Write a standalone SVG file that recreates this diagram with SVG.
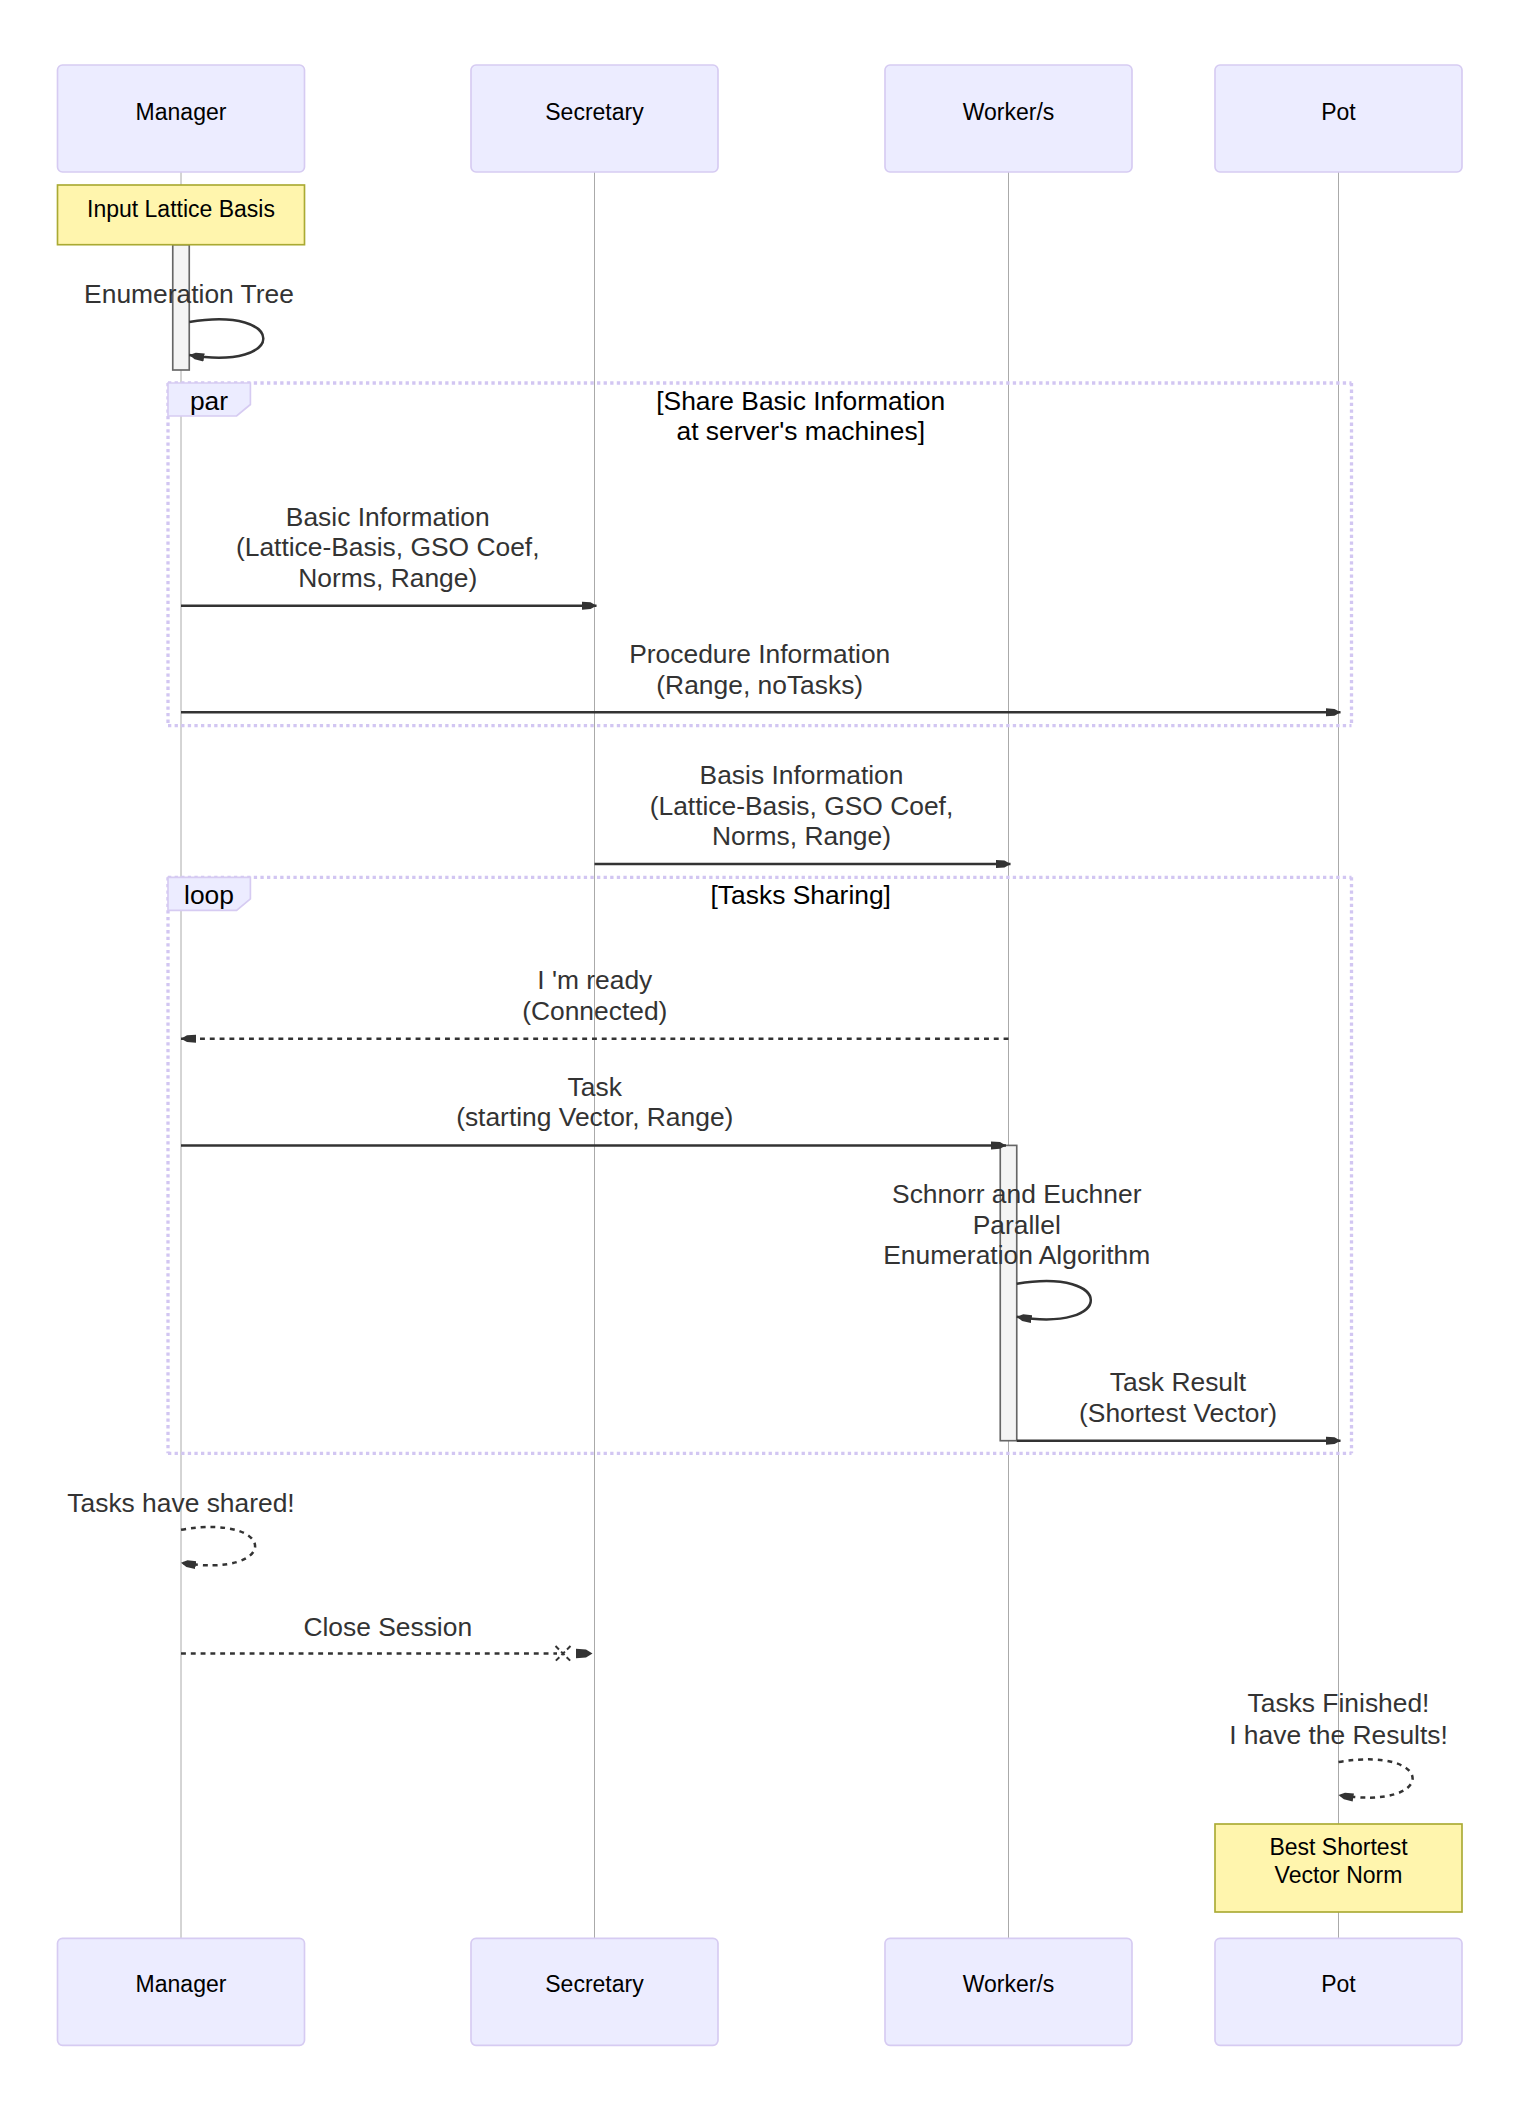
<svg xmlns="http://www.w3.org/2000/svg" width="1516" height="2106" viewBox="0 0 1516 2106">
<style>
.actor{fill:#ECECFF;stroke:#D6CBF2;stroke-width:1.65}
.atext{font-family:'Liberation Sans',Arial,sans-serif;font-size:23px;fill:#000;text-anchor:middle}
.life{stroke:#aaa;stroke-width:1;fill:none}
.note{fill:#fff5ad;stroke:#aaaa33;stroke-width:1.65}
.ntext{font-family:'Liberation Sans',Arial,sans-serif;font-size:23px;fill:#000;text-anchor:middle}
.act{fill:#f4f4f4;stroke:#666;stroke-width:1.65}
.loopline{stroke:#D2C6F2;stroke-width:3.3;stroke-dasharray:3.3 3.3;fill:none}
.lbox{fill:#ECECFF;stroke:#D6CBF2;stroke-width:1.65}
.ltext{font-family:'Liberation Sans',Arial,sans-serif;font-size:26.4px;fill:#000;text-anchor:middle}
.mtext{font-family:'Liberation Sans',Arial,sans-serif;font-size:26.4px;fill:#333;text-anchor:middle}
.msg{stroke:#333;stroke-width:2.5;fill:none}
.dash{stroke-dasharray:4.9 4.9}
</style>
<defs>
<marker id="arrow" markerUnits="userSpaceOnUse" markerWidth="16" markerHeight="10" refX="15" refY="4" orient="auto" viewBox="0 0 16 8">
<path d="M0,0 L9,0.6 L15,4 L9,7.4 L0,8 z" fill="#333"/>
</marker>
</defs>
<rect width="1516" height="2106" fill="#fff"/>
<g id="lifelines">
<line class="life" x1="181" y1="172" x2="181" y2="1938"/>
<line class="life" x1="594.5" y1="172" x2="594.5" y2="1938"/>
<line class="life" x1="1008.5" y1="172" x2="1008.5" y2="1938"/>
<line class="life" x1="1338.5" y1="172" x2="1338.5" y2="1938"/>
</g>
<g id="actor-manager-top"><rect class="actor" x="57.5" y="65" width="247" height="107" rx="5"/><text class="atext" x="181" y="120">Manager</text></g>
<g id="actor-secretary-top"><rect class="actor" x="471" y="65" width="247" height="107" rx="5"/><text class="atext" x="594.5" y="120">Secretary</text></g>
<g id="actor-worker-top"><rect class="actor" x="885" y="65" width="247" height="107" rx="5"/><text class="atext" x="1008.5" y="120">Worker/s</text></g>
<g id="actor-pot-top"><rect class="actor" x="1215" y="65" width="247" height="107" rx="5"/><text class="atext" x="1338.5" y="120">Pot</text></g>
<g id="par-block">
<line class="loopline" x1="168" y1="383" x2="1351.5" y2="383"/>
<line class="loopline" x1="1351.5" y1="383" x2="1351.5" y2="725.7"/>
<line class="loopline" x1="168" y1="725.7" x2="1351.5" y2="725.7"/>
<line class="loopline" x1="168" y1="383" x2="168" y2="725.7"/>
<polygon class="lbox" points="168,383 250.4,383 250.4,404.5 236.6,416 168,416"/>
<text class="ltext" x="209" y="410">par</text>
<text class="ltext" x="800.75" y="410">[Share Basic Information</text>
<text class="ltext" x="800.75" y="440">at server's machines]</text>
</g>
<g id="loop-block">
<line class="loopline" x1="168" y1="877.3" x2="1351.5" y2="877.3"/>
<line class="loopline" x1="1351.5" y1="877.3" x2="1351.5" y2="1453.3"/>
<line class="loopline" x1="168" y1="1453.3" x2="1351.5" y2="1453.3"/>
<line class="loopline" x1="168" y1="877.3" x2="168" y2="1453.3"/>
<polygon class="lbox" points="168,877.3 250.4,877.3 250.4,898.8 236.6,910.3 168,910.3"/>
<text class="ltext" x="209" y="904.3">loop</text>
<text class="ltext" x="800.75" y="904.3">[Tasks Sharing]</text>
</g>
<g id="activation-manager"><rect class="act" x="172.75" y="244.7" width="16.5" height="125.3"/></g>
<g id="activation-worker"><rect class="act" x="1000.25" y="1145.4" width="16.5" height="295.3"/></g>
<g id="note-input"><rect class="note" x="57.5" y="185" width="247" height="59.7"/><text class="ntext" x="181" y="216.7">Input Lattice Basis</text></g>
<g id="note-best"><rect class="note" x="1215" y="1824" width="247" height="88"/><text class="ntext" x="1338.5" y="1855">Best Shortest</text><text class="ntext" x="1338.5" y="1882.7">Vector Norm</text></g>
<g id="connectors">
<path class="msg" d="M189.25,322 C288,305.5 288,371.4 189.25,355" marker-end="url(#arrow)"/>
<line class="msg" x1="181" y1="605.7" x2="596.5" y2="605.7" marker-end="url(#arrow)"/>
<line class="msg" x1="181" y1="712.3" x2="1340.5" y2="712.3" marker-end="url(#arrow)"/>
<line class="msg" x1="594.5" y1="864" x2="1010.5" y2="864" marker-end="url(#arrow)"/>
<line class="msg dash" x1="1008.5" y1="1038.7" x2="181" y2="1038.7" marker-end="url(#arrow)"/>
<line class="msg" x1="181" y1="1145.4" x2="1006" y2="1145.4" marker-end="url(#arrow)"/>
<path class="msg" d="M1016.75,1283.7 C1115.5,1267.2 1115.5,1333.1 1016.75,1316.7" marker-end="url(#arrow)"/>
<line class="msg" x1="1016.75" y1="1440.7" x2="1340.5" y2="1440.7" marker-end="url(#arrow)"/>
<path class="msg dash" d="M181,1529.7 C279.8,1513.2 279.8,1579.1 181,1562.7" marker-end="url(#arrow)"/>
<line class="msg dash" x1="181" y1="1653.5" x2="557" y2="1653.5"/>
<path d="M555.5,1646 L570.5,1661 M570.5,1646 L555.5,1661" stroke="#333" stroke-width="2" stroke-dasharray="4.9 3" fill="none"/>
<path d="M576,1648.8 L586,1649.6 L592.5,1653.5 L586,1657.4 L576,1658.2 z" fill="#333"/>
<path class="msg dash" d="M1338.5,1762 C1437.3,1745.5 1437.3,1811.4 1338.5,1795" marker-end="url(#arrow)"/>
</g>
<g id="message-labels">
<text class="mtext" x="189" y="303">Enumeration Tree</text>
<text class="mtext" x="387.75" y="526">Basic Information</text>
<text class="mtext" x="387.75" y="556.3">(Lattice-Basis, GSO Coef,</text>
<text class="mtext" x="387.75" y="586.6">Norms, Range)</text>
<text class="mtext" x="759.75" y="663.3">Procedure Information</text>
<text class="mtext" x="759.75" y="693.6">(Range, noTasks)</text>
<text class="mtext" x="801.5" y="784.3">Basis Information</text>
<text class="mtext" x="801.5" y="814.6">(Lattice-Basis, GSO Coef,</text>
<text class="mtext" x="801.5" y="845">Norms, Range)</text>
<text class="mtext" x="594.75" y="989.4">I 'm ready</text>
<text class="mtext" x="594.75" y="1019.7">(Connected)</text>
<text class="mtext" x="594.75" y="1096">Task</text>
<text class="mtext" x="594.75" y="1126.3">(starting Vector, Range)</text>
<text class="mtext" x="1016.75" y="1203.3">Schnorr and Euchner</text>
<text class="mtext" x="1016.75" y="1233.6">Parallel</text>
<text class="mtext" x="1016.75" y="1264">Enumeration Algorithm</text>
<text class="mtext" x="1178" y="1391.4">Task Result</text>
<text class="mtext" x="1178" y="1421.7">(Shortest Vector)</text>
<text class="mtext" x="181" y="1511.7">Tasks have shared!</text>
<text class="mtext" x="387.75" y="1636">Close Session</text>
<text class="mtext" x="1338.5" y="1711.7">Tasks Finished!</text>
<text class="mtext" x="1338.5" y="1744">I have the Results!</text>
</g>
<g id="actor-manager-bottom"><rect class="actor" x="57.5" y="1938.3" width="247" height="107" rx="5"/><text class="atext" x="181" y="1992">Manager</text></g>
<g id="actor-secretary-bottom"><rect class="actor" x="471" y="1938.3" width="247" height="107" rx="5"/><text class="atext" x="594.5" y="1992">Secretary</text></g>
<g id="actor-worker-bottom"><rect class="actor" x="885" y="1938.3" width="247" height="107" rx="5"/><text class="atext" x="1008.5" y="1992">Worker/s</text></g>
<g id="actor-pot-bottom"><rect class="actor" x="1215" y="1938.3" width="247" height="107" rx="5"/><text class="atext" x="1338.5" y="1992">Pot</text></g>
</svg>
